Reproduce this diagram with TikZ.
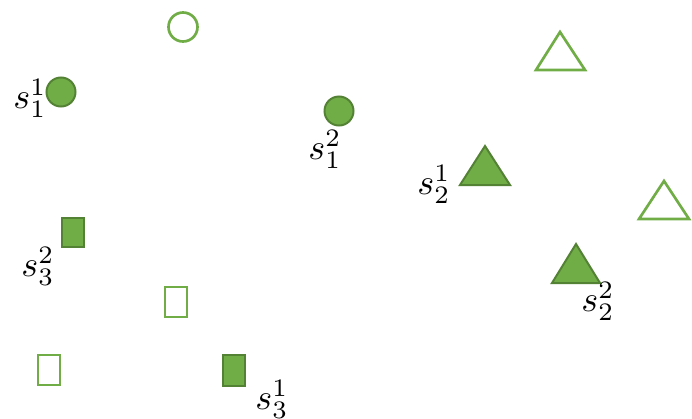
\documentclass[tikz,border=0pt]{standalone}
\usepackage{xcolor}
\definecolor{gfill}{HTML}{70AD47}
\definecolor{gdark}{HTML}{548235}
\begin{document}
\begin{tikzpicture}[x=0.75pt,y=-0.75pt,
  full/.style={fill=gfill,draw=gdark,line width=1.5pt,line join=miter},
  hollow/.style={draw=gfill,line width=2pt,fill=white},
  lab/.style={inner sep=0pt,scale=2.7}]
\useasboundingbox (0,0) rectangle (692,418);
% circles
\draw[hollow] (183,27) circle (14.5);
\draw[full] (61,92) circle (14.5);
\draw[full] (339,111) circle (14.5);
% triangles
\draw[hollow] (560,32) -- (585,70) -- (536,70) -- cycle;
\draw[full] (485,146) -- (510,185) -- (460,185) -- cycle;
\draw[hollow] (664,181) -- (689,219) -- (639,219) -- cycle;
\draw[full] (576,244) -- (600,283) -- (552,283) -- cycle;
% rectangles
\draw[full] (62,218) rectangle (84,247);
\draw[hollow] (165,287) rectangle (187,317);
\draw[hollow] (38,355) rectangle (60,385);
\draw[full] (223,355) rectangle (245,386);
% labels
\node[lab] (l11) at (30,98) {$s_1^1$};
\node[lab] (l12) at (325,149) {$s_1^2$};
\node[lab] (l21) at (434,184) {$s_2^1$};
\node[lab] (l22) at (598,301) {$s_2^2$};
\node[lab] (l32) at (38,266) {$s_3^2$};
\node[lab] (l31) at (272,399) {$s_3^1$};
\end{tikzpicture}
\end{document}
